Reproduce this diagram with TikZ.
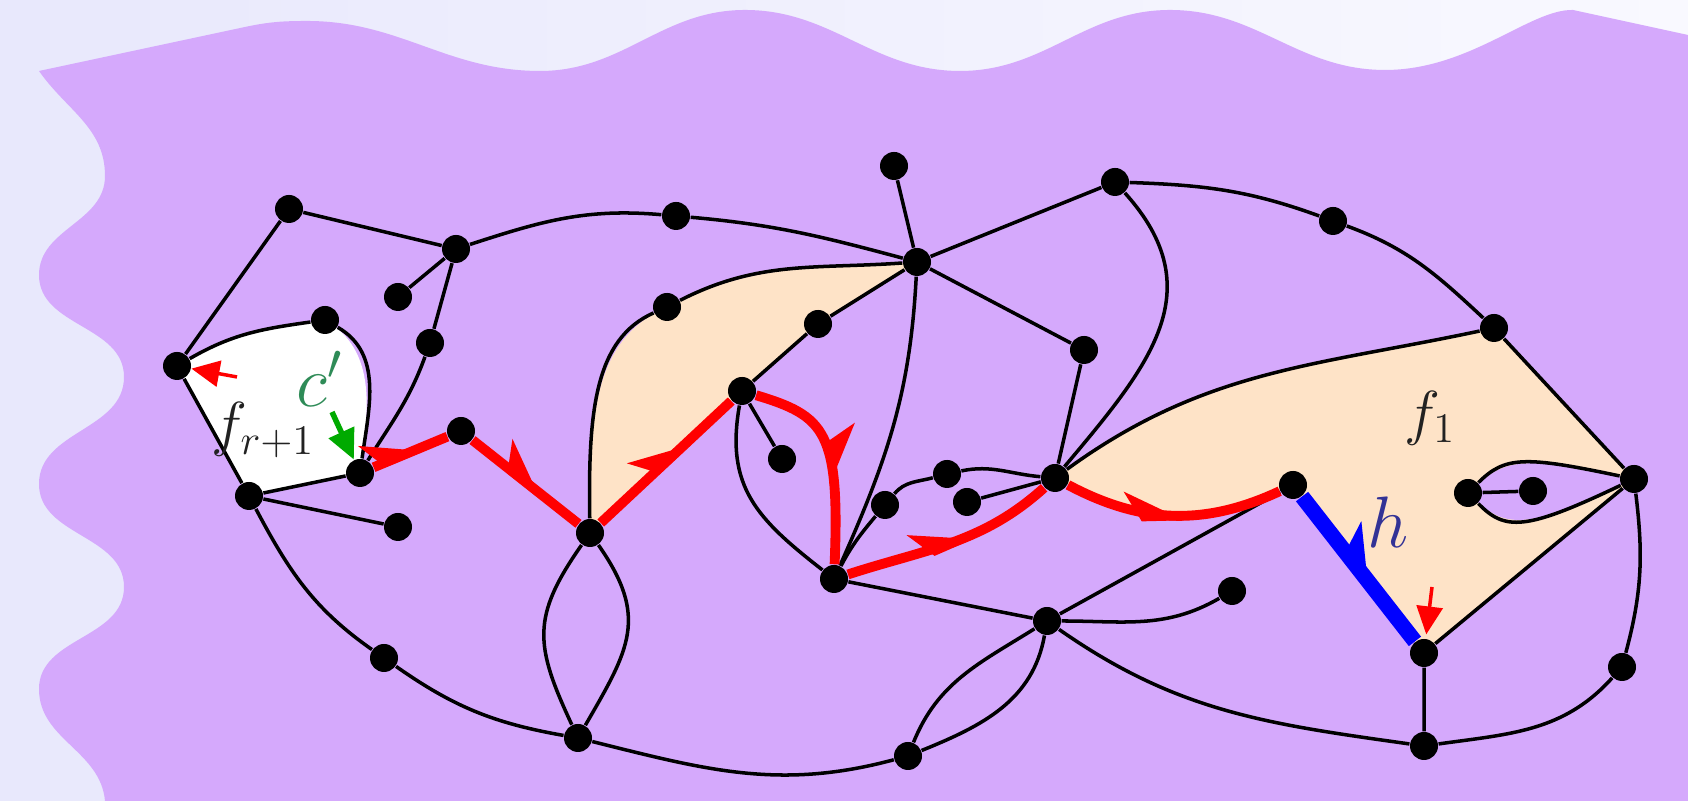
\documentclass[tikz,border=0pt]{standalone}
\usepackage{amsmath}
\usetikzlibrary{arrows.meta,decorations.markings,backgrounds}
\definecolor{skyleft}{RGB}{232,232,252}
\definecolor{skyright}{RGB}{249,249,255}
\definecolor{lilac}{RGB}{213,169,252}
\definecolor{peach}{RGB}{254,227,199}
\definecolor{seagreen}{RGB}{46,139,87}
\definecolor{brightgreen}{RGB}{0,170,0}
\definecolor{indigo}{RGB}{50,50,150}
\definecolor{ink}{RGB}{34,34,34}
\tikzset{
  vtx/.style={circle,fill=black,inner sep=0pt,minimum size=2.8mm},
  edg/.style={line width=1pt,black},
  walk/.style={line width=2.8pt,red,postaction={decorate},
    decoration={markings,mark=at position #1 with {\arrow{Stealth[harpoon,length=5mm,width=5mm,inset=1.4mm]}}}},
  walk/.default=0.67,
  hedge/.style={line width=4.4pt,blue,postaction={decorate},
    decoration={markings,mark=at position 0.62 with {\arrow{Stealth[harpoon,length=5mm,width=6.2mm,inset=1.4mm]}}}},
  pointer/.style={line width=0.35mm,red,-{Triangle[length=2.8mm,width=2.6mm]}},
  face/.style={fill=peach},
  flab/.style={text=ink,font=\LARGE}
}
\begin{document}
\begin{tikzpicture}
  % vertices
  \node[vtx] (a) at (2.89,5.92) {};
  \node[vtx] (b) at (4.56,5.52) {};
  \node[vtx] (c) at (6.76,5.85) {};
  \node[vtx] (d) at (8.94,6.35) {};
  \node[vtx] (e) at (9.17,5.39) {};
  \node[vtx] (f) at (11.15,6.19) {};
  \node[vtx] (g) at (13.33,5.80) {};
  \node[vtx] (h) at (14.94,4.73) {};
  \node[vtx] (i) at (3.98,5.04) {};
  \node[vtx] (j) at (4.30,4.58) {};
  \node[vtx] (k) at (3.25,4.81) {};
  \node[vtx] (l) at (1.77,4.35) {};
  \node[vtx] (m) at (2.49,3.05) {};
  \node[vtx] (n) at (3.60,3.28) {};
  \node[vtx] (o) at (3.98,2.74) {};
  \node[vtx] (p) at (4.61,3.70) {};
  \node[vtx] (q) at (5.90,2.68) {};
  \node[vtx] (r) at (6.67,4.94) {};
  \node[vtx] (s) at (8.18,4.77) {};
  \node[vtx] (t) at (7.42,4.10) {};
  \node[vtx] (u) at (7.82,3.42) {};
  \node[vtx] (v) at (8.34,2.22) {};
  \node[vtx] (w) at (8.85,2.96) {};
  \node[vtx] (x) at (9.47,3.27) {};
  \node[vtx] (y) at (9.67,2.99) {};
  \node[vtx] (z) at (10.55,3.23) {};
  \node[vtx] (aa) at (10.84,4.51) {};
  \node[vtx] (ab) at (12.93,3.16) {};
  \node[vtx] (ac) at (14.68,3.08) {};
  \node[vtx] (ad) at (15.33,3.10) {};
  \node[vtx] (ae) at (16.34,3.22) {};
  \node[vtx] (af) at (12.32,2.10) {};
  \node[vtx] (ag) at (10.47,1.80) {};
  \node[vtx] (ah) at (14.24,1.48) {};
  \node[vtx] (ai) at (16.22,1.34) {};
  \node[vtx] (aj) at (14.24,0.55) {};
  \node[vtx] (ak) at (9.08,0.45) {};
  \node[vtx] (al) at (5.78,0.63) {};
  \node[vtx] (am) at (3.84,1.43) {};

  % straight edges
  \draw[edg] (a)--(l) (a)--(b) (b)--(i) (b)--(j) (d)--(e) (e)--(f) (e)--(aa) (e)--(s) (s)--(t) (t)--(u)
    (l)--(m) (m)--(n) (m)--(o) (z)--(y) (z)--(aa) (h)--(ae) (ae)--(ah) (ah)--(aj) (ag)--(ab) (ag)--(v) (ac)--(ad);
  % curved edges
  \draw[edg] (b) to[out=18,in=175] (c) to[out=-5,in=165] (e);
  \draw[edg] (r) to[out=27,in=184] (e);
  \draw[edg] (r) .. controls (5.95,4.62) and (5.88,3.9) .. (q);
  \draw[edg] (e) to[out=-93,in=66] (v);
  \draw[edg] (f) to[out=-2,in=160] (g) to[out=-20,in=137] (h);
  \draw[edg] (f) to[out=-48,in=50,looseness=1.2] (z);
  \draw[edg] (z) to[out=36,in=192] (h);
  \draw[edg] (ae) to[out=-83,in=75] (ai) to[out=228,in=8] (aj);
  \draw[edg] (ag) to[out=-35,in=172] (aj);
  \draw[edg] (ak) to[out=68,in=212] (ag) (ak) to[out=22,in=-100] (ag);
  \draw[edg] (ag) to[out=0,in=210] (af);
  \draw[edg] (al) to[out=-14,in=195] (ak);
  \draw[edg] (q) to[out=235,in=115,looseness=1.25] (al) (q) to[out=-55,in=60,looseness=1.25] (al);
  \draw[edg] (m) to[out=-62,in=145] (am) to[out=-35,in=170] (al);
  \draw[edg] (l) to[out=30,in=188] (k) to[out=-30,in=82] (n);
  \draw[edg] (n) to[out=58,in=250] (j);
  \draw[edg] (t) to[out=-100,in=142,looseness=1.15] (v);
  \draw[edg] (v) to[out=62,in=230] (w) to[out=50,in=195] (x) to[out=12,in=175] (z);
  \draw[edg] (ac) .. controls (15.05,3.45) and (15.25,3.45) .. (ae)
             (ac) .. controls (15.05,2.70) and (15.25,2.70) .. (ae);

  % the walk
  \draw[walk] (n)--(p);
  \draw[walk] (p)--(q);
  \draw[walk] (q)--(t);
  \draw[walk=0.62] (t) .. controls (8.25,3.85) and (8.40,3.7) .. (v);
  \draw[walk=0.6] (v) to[out=18,in=222] (z);
  \draw[walk=0.55] (z) to[out=-28,in=205] (ab);
  \draw[hedge] (ab)--(ah);

  % pointers
  \coordinate (pl) at (2.37,4.24);
  \coordinate (pah) at (14.32,2.14);
  \coordinate (pn) at (3.32,3.89);
  \draw[pointer] (pl)--(l);
  \draw[pointer,shorten >=0.4mm] (pah)--(ah);
  \draw[pointer,brightgreen,line width=0.55mm,-{Triangle[length=3mm,width=2.7mm]}] (pn)--(n);

  % labels
  \node[text=seagreen,font=\huge] (cp) at (3.20,4.22) {$c'$};
  \node[flab] (fr) at (2.63,3.71) {$f_{r+1}$};
  \node[flab] (fone) at (14.30,3.83) {$f_1$};
  \node[text=indigo,font=\huge] (hl) at (13.88,2.79) {$h$};

  \begin{scope}[on background layer]
    \shade[left color=skyleft,right color=skyright] (0,0) rectangle (16.88,8.01);
    \fill[lilac] (0.39,7.30) -- (2.45,7.74) to[out=12,in=180] (3.07,7.80) to[out=0,in=180] (5.40,7.30)
      to[out=0,in=180] (7.45,7.91) to[out=0,in=180] (9.60,7.30) to[out=0,in=180] (11.70,7.91)
      to[out=0,in=180] (13.85,7.31) .. controls (14.7,7.31) and (15.3,7.92) .. (15.73,7.91) -- (16.88,7.66)
      -- (16.88,0) -- (1.05,0)
      to[out=95,in=-90] (0.39,1.12) to[out=90,in=-90] (1.24,2.14) to[out=90,in=-90] (0.39,3.17)
      to[out=90,in=-90] (1.24,4.24) to[out=90,in=-90] (0.39,5.26) to[out=90,in=-90] (1.05,6.25)
      to[out=90,in=-55] (0.39,7.30) -- cycle;
    \fill[face] (e.center) to[out=184,in=27] (r.center) .. controls (5.95,4.62) and (5.88,3.9) .. (q.center)
      -- (t.center) -- (s.center) -- cycle;
    \fill[face] (z.center) to[out=36,in=192] (h.center) -- (ae.center) -- (ah.center) -- (ab.center)
      to[out=205,in=-28] (z.center) -- cycle;
    \fill[lilac] (ac.center) .. controls (15.05,3.45) and (15.25,3.45) .. (ae.center)
      .. controls (15.25,2.70) and (15.05,2.70) .. (ac.center) -- cycle;
    \fill[white] (l.center) to[out=30,in=188] (k.center) to[out=-30,in=82] (n.center) -- (m.center) -- cycle;
  \end{scope}
\end{tikzpicture}
\end{document}
